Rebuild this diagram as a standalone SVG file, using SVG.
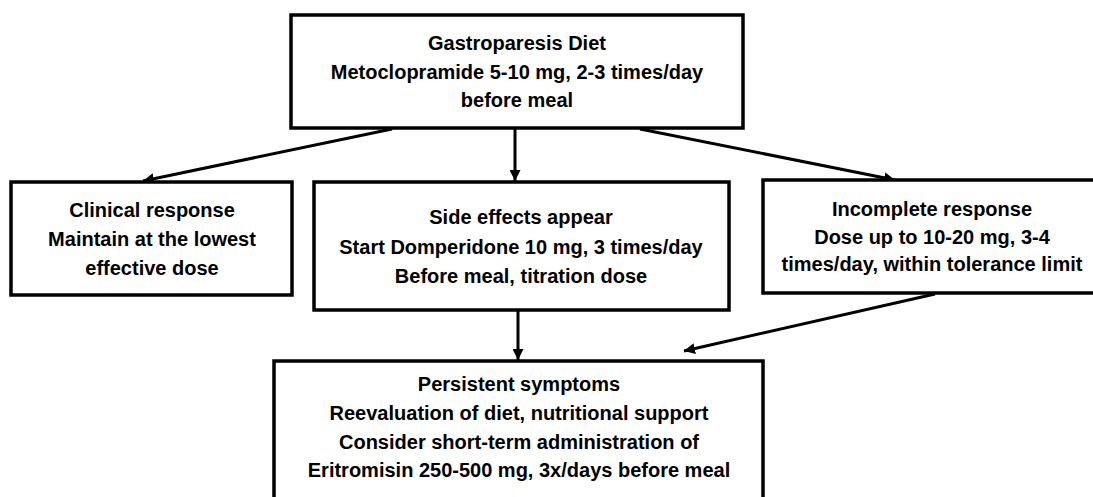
<svg xmlns="http://www.w3.org/2000/svg" width="1093" height="497" viewBox="0 0 1093 497">
<style>
.box{fill:#fff;stroke:#000;stroke-width:3.5}
.t{font-family:"Liberation Sans",Arial,sans-serif;font-weight:bold;font-size:20px;text-anchor:middle;fill:#000}
.c{fill:none;stroke:#000;stroke-width:3}
</style>
<defs>
<marker id="ah" viewBox="0 0 10 10" refX="10" refY="5" markerWidth="11" markerHeight="11" markerUnits="userSpaceOnUse" orient="auto">
<path d="M0,0 L10,5 L0,10 Z" fill="#000"/>
</marker>
</defs>
<rect width="1093" height="497" fill="#fff"/>
<g id="connectors">
<path class="c" d="M392,129 L143,181" marker-end="url(#ah)"/>
<path class="c" d="M515,129 L515,181" marker-end="url(#ah)"/>
<path class="c" d="M640,129 L895,180" marker-end="url(#ah)"/>
<path class="c" d="M518,311 L518,360" marker-end="url(#ah)"/>
<path class="c" d="M935,294 L684,351" marker-end="url(#ah)"/>
</g>
<g id="n-top">
<rect class="box" x="291" y="15" width="452" height="113"/>
<text class="t" x="517" y="50">Gastroparesis Diet</text>
<text class="t" x="517" y="79">Metoclopramide 5-10 mg, 2-3 times/day</text>
<text class="t" x="517" y="107">before meal</text>
</g>
<g id="n-clinical">
<rect class="box" x="11" y="182" width="281" height="113"/>
<text class="t" x="152" y="217">Clinical response</text>
<text class="t" x="152" y="246">Maintain at the lowest</text>
<text class="t" x="152" y="275">effective dose</text>
</g>
<g id="n-side">
<rect class="box" x="314" y="182" width="415" height="128"/>
<text class="t" x="521" y="224">Side effects appear</text>
<text class="t" x="521" y="254">Start Domperidone 10 mg, 3 times/day</text>
<text class="t" x="521" y="283">Before meal, titration dose</text>
</g>
<g id="n-incomplete">
<rect class="box" x="763" y="180" width="340" height="113"/>
<text class="t" x="932" y="216">Incomplete response</text>
<text class="t" x="932" y="244">Dose up to 10-20 mg, 3-4</text>
<text class="t" x="932" y="271">times/day, within tolerance limit</text>
</g>
<g id="n-persistent">
<rect class="box" x="274" y="361" width="489" height="150"/>
<text class="t" x="519" y="391">Persistent symptoms</text>
<text class="t" x="519" y="420">Reevaluation of diet, nutritional support</text>
<text class="t" x="519" y="449">Consider short-term administration of</text>
<text class="t" x="519" y="477">Eritromisin 250-500 mg, 3x/days before meal</text>
</g>
</svg>
